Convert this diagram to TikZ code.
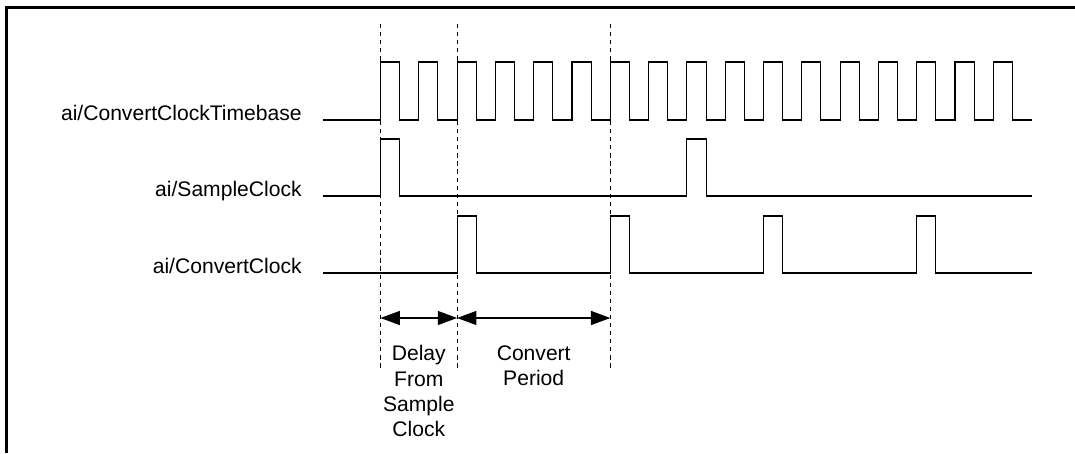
\documentclass[tikz,border=0pt]{standalone}
\usepackage{fontspec}
\setmainfont{Liberation Sans}
\usetikzlibrary{positioning,arrows.meta}

\newcommand{\clkzero}{380.5}
\newcommand{\clkper}{38.3}
\newcommand{\clkhalf}{19.15}

\begin{document}
\begin{tikzpicture}[x=0.02cm, y=-0.02cm,
        wave/.style = {line width=0.6pt},
        sig/.style = {inner sep=0, font=\fontsize{12}{14.4}\selectfont},
        guide/.style = {line width=0.6pt, dash pattern=on 2.4pt off 2.2pt},
        dimarrow/.style = {line width=0.6pt, {Triangle[length=11pt,width=8pt]}-{Triangle[length=11pt,width=8pt]}},
        note/.style = {inner sep=0, align=center, font=\fontsize{12}{14.4}\selectfont}]
        \useasboundingbox (0,0) rectangle (1075,453);
        \draw[line width=1.2pt] (6.5,453) -- (6.5,7.5) -- (1075,7.5);

        % line ends
        \coordinate (tb0) at (323,120);
        \coordinate (sc0) at (323,196);
        \coordinate (sc1) at (1032,196);
        \coordinate (cc0) at (323,273);
        \coordinate (cc1) at (1032,273);

        \node[sig, left=4.2mm of tb0, anchor=base east] (tbl) {ai/ConvertClockTimebase};
        \node[sig, left=4.2mm of sc0, anchor=base east] (scl) {ai/SampleClock};
        \node[sig, left=4.2mm of cc0, anchor=base east] (ccl) {ai/ConvertClock};

        % waveforms
        \draw[wave] (tb0) -- (\clkzero,120) \foreach \k in {0,...,16} {
            -- ++(0,-58) -- ++(\clkhalf,0) -- ++(0,58) -- ++(\clkhalf,0)};
        \draw[wave] (sc0) \foreach \k in {0,8} {
            -- ({\clkzero+\k*\clkper},196) -- ++(0,-57) -- ++(\clkhalf,0) -- ++(0,57)} -- (sc1);
        \draw[wave] (cc0) \foreach \k in {2,6,10,14} {
            -- ({\clkzero+\k*\clkper},273) -- ++(0,-57) -- ++(\clkhalf,0) -- ++(0,57)} -- (cc1);

        % guides
        \coordinate (g0) at (380.5,24);
        \coordinate (g1) at (457.1,24);
        \coordinate (g2) at (610.3,24);
        \coordinate (g0e) at (380.5,368);
        \coordinate (g1e) at (457.1,368);
        \coordinate (g2e) at (610.3,368);
        \coordinate (m0) at (380.5,318);
        \coordinate (m1) at (457.1,318);
        \coordinate (m2) at (610.3,318);

        \draw[guide] (g0) -- (g0e);
        \draw[guide] (g1) -- (g1e);
        \draw[guide] (g2) -- (g2e);

        \draw[dimarrow] (m0) -- node[note, below=0.54cm] (dly) {Delay\\From\\Sample\\Clock} (m1);
        \draw[dimarrow] (m1) -- node[note, below=0.54cm] (cvp) {Convert\\Period} (m2);
    \end{tikzpicture}
\end{document}
